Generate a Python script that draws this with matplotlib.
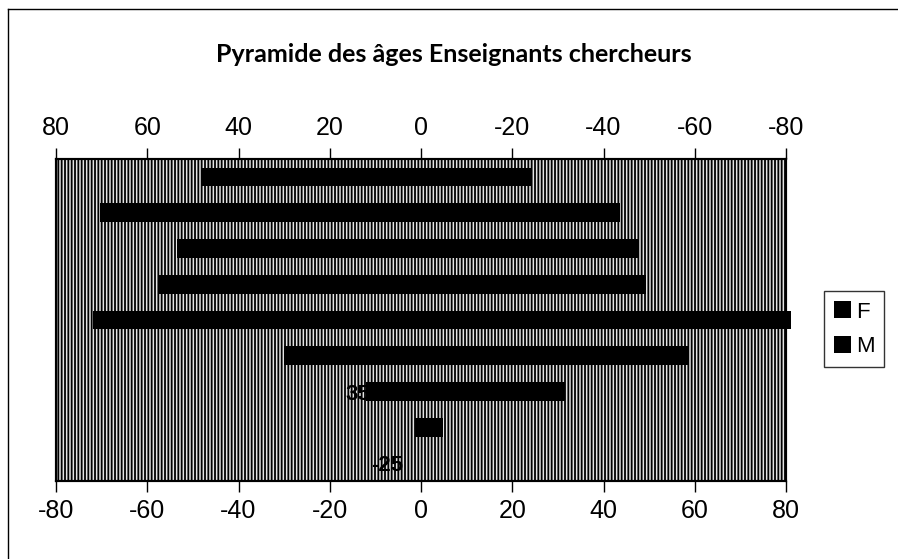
import numpy as np
import matplotlib.pyplot as plt
from matplotlib.patches import Rectangle
from matplotlib.lines import Line2D

# age groups, bottom to top
ages = ['-25', '25-34', '35-39', '40-44', '45-49', '50-54', '55-59', '60-64', '65-']
femmes = [0, 1.3, 12, 30, 72, 57.6, 53.5, 70.4, 48]
hommes = [0, 4.8, 31.5, 58.5, 81, 49.3, 47.8, 43.6, 24.3]
ticks = [-80, -60, -40, -20, 0, 20, 40, 60, 80]

plt.rcParams['font.family'] = ['Liberation Sans', 'DejaVu Sans']
plt.rcParams['hatch.linewidth'] = 1.3

fig = plt.figure(figsize=(8.98, 5.59), dpi=100)
ax = fig.add_axes([0.0624, 0.1395, 0.8129, 0.5761])
y = np.arange(len(ages))

# striped grey plot area (scanned look)
bg = Rectangle((0, 0), 1, 1, transform=ax.transAxes, facecolor='#e4e4e4',
               edgecolor='black', linewidth=0, hatch='|||||', zorder=0)
ax.add_patch(bg)

# M on the primary (bottom) axis
bars_m = ax.barh(y, hommes, height=0.52, color='black', zorder=3, label='M')
for b in bars_m:
    b.set_clip_on(False)

# category labels, Excel shows every other one (most sit behind the bars)
for i in range(0, len(ages), 2):
    ax.text(-4, y[i], ages[i], ha='right', va='center_baseline', fontsize=16,
            fontweight='bold', color='black', zorder=1)

ax.set_xlim(-80, 80)
ax.set_ylim(-0.5, len(ages) - 0.5)
ax.set_xticks(ticks)
ax.set_xticklabels([str(t) for t in ticks])
ax.set_yticks([])
ax.tick_params(axis='x', direction='out', length=8, width=1, pad=5, labelsize=18)

# F on the secondary (top) axis, reversed
ax2 = ax.twiny()
bars_f = ax2.barh(y, femmes, height=0.52, color='black', zorder=3, label='F')
ax2.set_xlim(80, -80)
ax2.set_xticks(ticks)
ax2.set_xticklabels([str(t) for t in ticks])
ax2.tick_params(axis='x', direction='out', length=8, width=1, pad=6, labelsize=18)

for a in (ax, ax2):
    for s in a.spines.values():
        s.set_linewidth(1.5)

fig.text(0.505, 0.902, 'Pyramide des âges Enseignants chercheurs', ha='center',
         va='center', fontsize=18, fontweight='bold', family=['Lato', 'DejaVu Sans'])

leg = fig.legend(handles=[bars_f, bars_m], labels=['F', 'M'], loc='center',
                 bbox_to_anchor=(0.951, 0.411), fontsize=16, frameon=True,
                 fancybox=False, edgecolor='black', handlelength=0.8,
                 handleheight=0.8, handletextpad=0.2, labelspacing=0.6,
                 borderpad=0.45, borderaxespad=0)
leg.get_frame().set_linewidth(1.0)

# chart area border (left and top)
fig.add_artist(Line2D([0.009, 0.009], [0, 0.984], color='black', lw=1))
fig.add_artist(Line2D([0.009, 1.0], [0.984, 0.984], color='black', lw=1))

fig.savefig('out.png', dpi=100)
